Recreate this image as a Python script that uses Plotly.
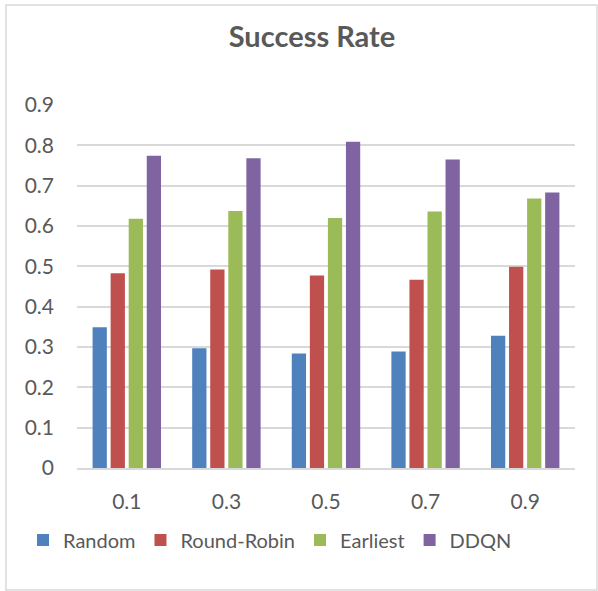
import plotly.graph_objects as go

categories = ["0.1", "0.3", "0.5", "0.7", "0.9"]
random_vals = [0.349, 0.297, 0.284, 0.289, 0.328]
round_robin_vals = [0.483, 0.492, 0.477, 0.467, 0.499]
earliest_vals = [0.618, 0.637, 0.620, 0.636, 0.668]
ddqn_vals = [0.774, 0.768, 0.809, 0.765, 0.683]

series_names = ["Random", "Round-Robin", "Earliest", "DDQN"]
series_values = [random_vals, round_robin_vals, earliest_vals, ddqn_vals]
colors = ["#4F81BD", "#C0504D", "#9BBB59", "#8064A2"]
y_ticks = [0, 0.1, 0.2, 0.3, 0.4, 0.5, 0.6, 0.7, 0.8, 0.9]
y_tick_labels = ["0", "0.1", "0.2", "0.3", "0.4", "0.5", "0.6", "0.7", "0.8", "0.9"]

FONT = "Lato, 'Open Sans', sans-serif"
TXT = "#595959"

fig = go.Figure()
for name, vals, c in zip(series_names, series_values, colors):
    fig.add_trace(go.Bar(name=name, x=categories, y=vals, marker_color=c,
                         marker_line_width=0))

fig.update_layout(
    width=598, height=591,
    margin=dict(l=77, r=23, t=105, b=123),
    paper_bgcolor="white", plot_bgcolor="white",
    barmode="group", bargap=0.275, bargroupgap=0.21,
    font=dict(family=FONT, size=20, color=TXT),
    title=dict(text="<b>Success Rate</b>", x=312/598, xanchor="center",
               y=1-37/591, yanchor="middle",
               font=dict(family=FONT, size=29, color=TXT)),
    legend=dict(orientation="h", x=(270-77)/498, xanchor="center", y=-72/363,
                yanchor="middle", font=dict(family=FONT, size=20, color=TXT),
                itemwidth=30, tracegroupgap=0),
    showlegend=True,
)
fig.update_yaxes(range=[0, 0.9], tickvals=y_ticks, ticktext=y_tick_labels,
                 showgrid=True, gridcolor="#D9D9D9", gridwidth=1.5,
                 zeroline=False, showline=False, ticks="", ticklabelstandoff=22,
                 tickfont=dict(family=FONT, size=21, color=TXT))
fig.update_xaxes(showgrid=False, showline=True, linecolor="#D9D9D9", linewidth=1.5,
                 ticks="", ticklabelstandoff=14,
                 tickfont=dict(family=FONT, size=21, color=TXT))

fig.add_shape(type="rect", xref="paper", yref="paper",
              x0=-71/498, x1=(597-77)/498, y0=-(590-468)/363, y1=1+(105-5)/363,
              line=dict(color="#D9D9D9", width=1.5), fillcolor="rgba(0,0,0,0)",
              layer="below")

fig.write_html("out.html")
